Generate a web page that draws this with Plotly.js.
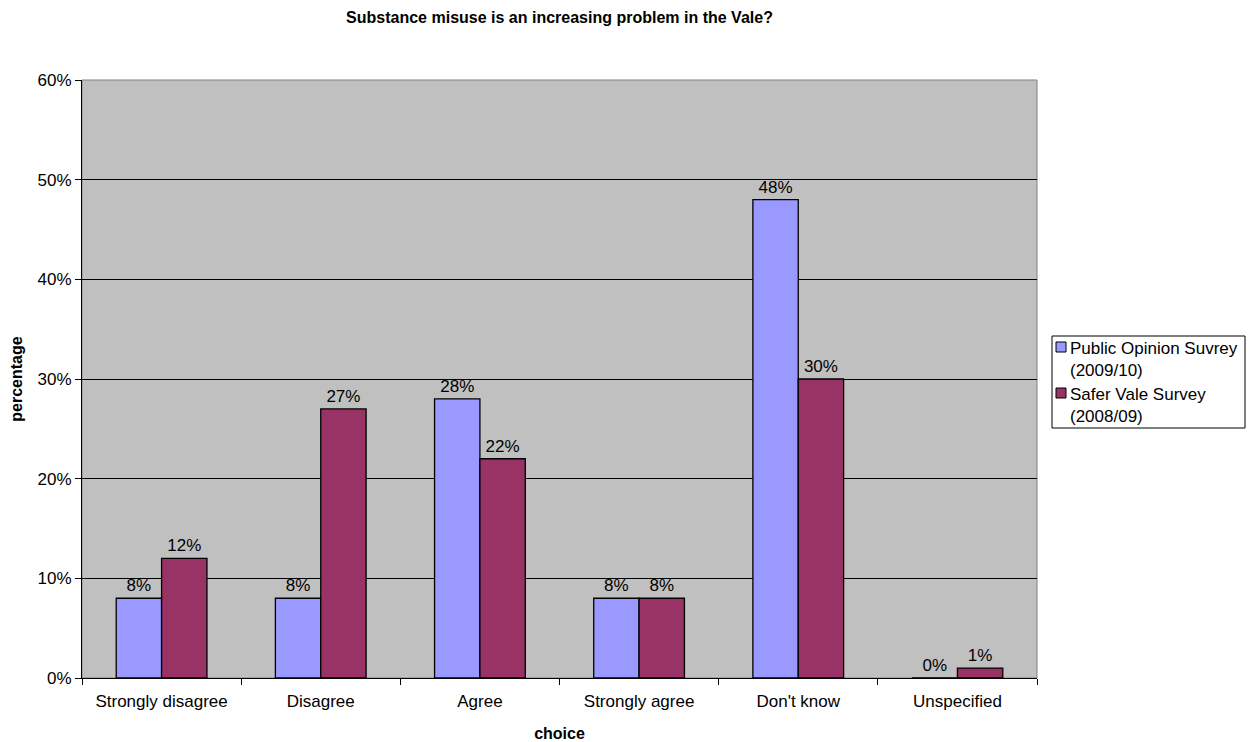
<!DOCTYPE html>
<html><head><meta charset="utf-8">
<script src="https://cdn.plot.ly/plotly-3.0.1.min.js"></script>
<style>body{margin:0;background:#fff}#c{width:1255px;height:742px}</style>
</head><body><div id="c"></div>
<script>
const categories = ["Strongly disagree","Disagree","Agree","Strongly agree","Don't know","Unspecified"];
const publicOpinion = [8, 8, 28, 8, 48, 0];
const saferVale = [12, 27, 22, 8, 30, 1];
const seriesNames = ["Public Opinion Suvrey<br>(2009/10)", "Safer Vale Survey<br>(2008/09)"];
const seriesColors = ["#9999FF", "#993366"];
const yTicks = [0,10,20,30,40,50,60];

const FAM = "Liberation Sans, Arial, sans-serif";
const font = {family: FAM, size: 17, color: "#000"};
function tr(vals, name, color){
  return {type:'bar', x:categories, y:vals, name:name,
    marker:{color:color, line:{color:'#000', width:1.3}},
    text: vals.map(v=>v+'%'), textposition:'outside', cliponaxis:false,
    textfont:{family:FAM,size:17,color:'#000'}, hoverinfo:'none', showlegend:false};
}
const data = [tr(publicOpinion, seriesNames[0], seriesColors[0]), tr(saferVale, seriesNames[1], seriesColors[1])];

// custom legend (pixel -> paper helpers)
const L=82, R=1037, T=80, B=678;
const px = x => (x-L)/(R-L), py = y => (B-y)/(B-T);
const shapes = [
  {type:'rect', xref:'paper', yref:'paper', x0:0, x1:1, y0:0, y1:1, line:{color:'#808080', width:1}, layer:'below'},
  {type:'rect', xref:'paper', yref:'paper', x0:px(1052), x1:px(1245), y0:py(428), y1:py(336), line:{color:'#000', width:1}, fillcolor:'#fff'}
];
const annotations = [];
const rowTops = [338, 384];
seriesNames.forEach((n,i)=>{
  const t = rowTops[i];
  shapes.push({type:'rect', xref:'paper', yref:'paper', x0:px(1056), x1:px(1066), y0:py(t+14), y1:py(t+4),
    line:{color:'#000', width:1}, fillcolor:seriesColors[i]});
  annotations.push({xref:'paper', yref:'paper', x:px(1068), y:py(t-1), xanchor:'left', yanchor:'top',
    text:n, showarrow:false, align:'left', font:{family:FAM,size:17,color:'#000'}});
});

const layout = {
  width:1255, height:742,
  margin:{l:L, r:1255-R, t:T, b:742-B},
  paper_bgcolor:'#fff', plot_bgcolor:'#C0C0C0',
  font: font,
  title:{text:'<b>Substance misuse is an increasing problem in the Vale?</b>', x:0.5, xref:'paper', y:0.977, yanchor:'middle', font:{family:FAM,size:16,color:'#000'}},
  bargap:0.43, bargroupgap:0,
  barmode:'group',
  xaxis:{title:{text:'<b>choice</b>', font:{family:FAM,size:16}, standoff:17},
    tickson:'boundaries', ticks:'outside', ticklen:6, tickcolor:'#000', ticklabelstandoff:8,
    showline:true, linecolor:'#000', linewidth:1, showgrid:false, fixedrange:true,
    tickfont:{family:FAM,size:17}},
  yaxis:{title:{text:'<b>percentage</b>', font:{family:FAM,size:16}, standoff:10},
    range:[0,60], tickvals:yTicks, ticktext:yTicks.map(v=>v+'%'),
    ticks:'outside', ticklen:6, tickcolor:'#000',
    showline:true, linecolor:'#000', linewidth:1,
    showgrid:true, gridcolor:'#000', gridwidth:1, zeroline:false,
    tickfont:{family:FAM,size:17}},
  shapes: shapes,
  annotations: annotations,
  showlegend:false
};
Plotly.newPlot('c', data, layout, {displayModeBar:false, staticPlot:true});
</script></body></html>
